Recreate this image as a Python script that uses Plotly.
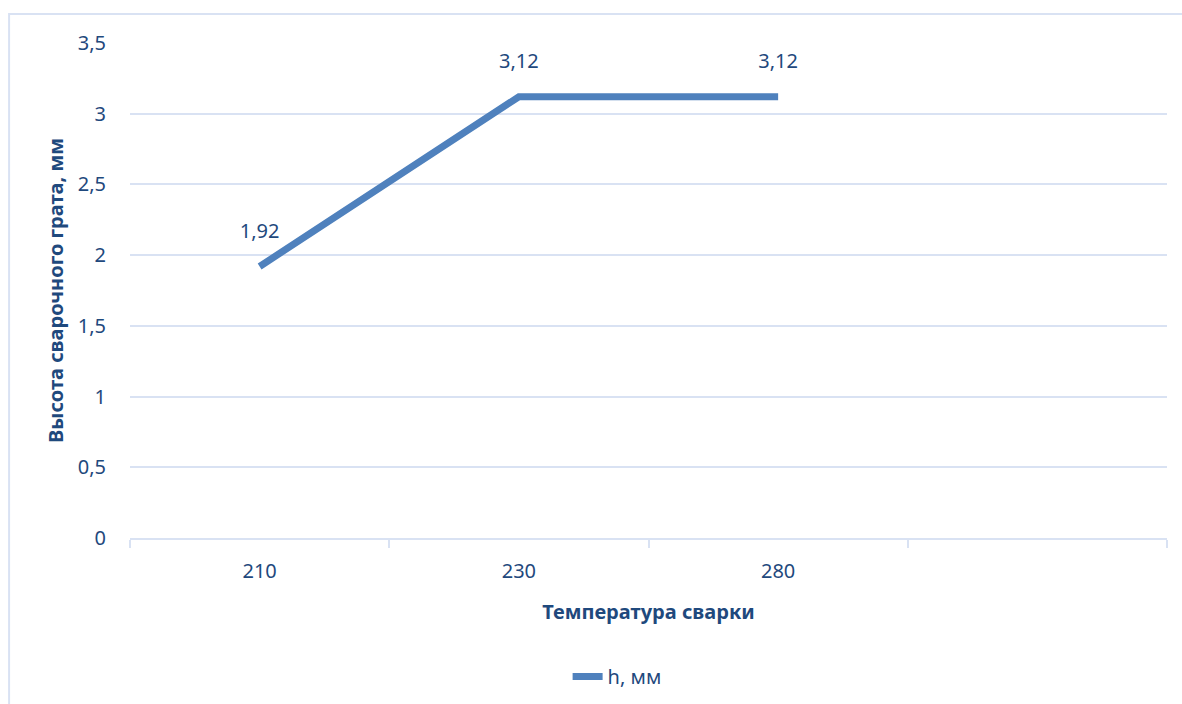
import plotly.graph_objects as go

categories = ["210", "230", "280", " "]
h_values = [1.92, 3.12, 3.12, None]
series_name = "h, мм"
x_title = "Температура сварки"
y_title = "Высота сварочного грата, мм"
y_ticks = [0, 0.5, 1, 1.5, 2, 2.5, 3, 3.5]

text_color = "#1F497D"
grid_color = "#D9E2F3"
line_color = "#4F81BD"
font_family = "Noto Sans, Open Sans, DejaVu Sans, sans-serif"
fs = 20

fig = go.Figure()
fig.add_trace(go.Scatter(
    x=categories,
    y=h_values,
    mode="lines",
    name=series_name,
    line=dict(color=line_color, width=7),
    connectgaps=False,
))
# data labels (same data), offset above the points
fig.add_trace(go.Scatter(
    x=categories,
    y=h_values,
    mode="markers+text",
    marker=dict(size=36, opacity=0, color=line_color),
    texttemplate="%{y:.2f}",
    textposition="top center",
    textfont=dict(size=fs, color=text_color, family=font_family),
    cliponaxis=False,
    showlegend=False,
    hoverinfo="skip",
))

fig.update_layout(
    width=1182, height=704,
    paper_bgcolor="white", plot_bgcolor="white",
    separators=", ",
    margin=dict(l=130, r=15, t=43, b=166, autoexpand=False),
    font=dict(family=font_family, size=fs, color=text_color),
    showlegend=True,
    legend=dict(orientation="h", x=0.422, xanchor="left", y=-0.28, yanchor="middle",
                font=dict(size=fs, color=text_color), bgcolor="rgba(0,0,0,0)"),
    shapes=[dict(type="rect", xref="paper", yref="paper",
                 x0=-0.1166, x1=1.05, y0=-0.4, y1=1.0586,
                 line=dict(color=grid_color, width=2), fillcolor="rgba(0,0,0,0)",
                 layer="below")],
)

fig.update_xaxes(
    type="category",
    categoryorder="array", categoryarray=categories,
    range=[-0.5, 3.5],
    tickson="boundaries",
    ticks="outside", ticklen=8, tickcolor=grid_color, tickwidth=1.5,
    showline=True, linecolor=grid_color, linewidth=1.5,
    showgrid=False,
    ticklabelstandoff=14,
    tickfont=dict(size=fs, color=text_color),
    title=dict(text=f"<b>{x_title}</b>", font=dict(size=fs, color=text_color), standoff=22),
)
fig.update_yaxes(
    range=[0, 3.5],
    tickvals=y_ticks,
    tickformat=".1~f",
    showgrid=True, gridcolor=grid_color, gridwidth=1.5,
    zeroline=False, showline=False,
    ticks="", ticklabelstandoff=23,
    tickfont=dict(size=fs, color=text_color),
    title=dict(text=f"<b>{y_title}</b>", font=dict(size=fs, color=text_color), standoff=8),
)

fig.write_html("out.html")
